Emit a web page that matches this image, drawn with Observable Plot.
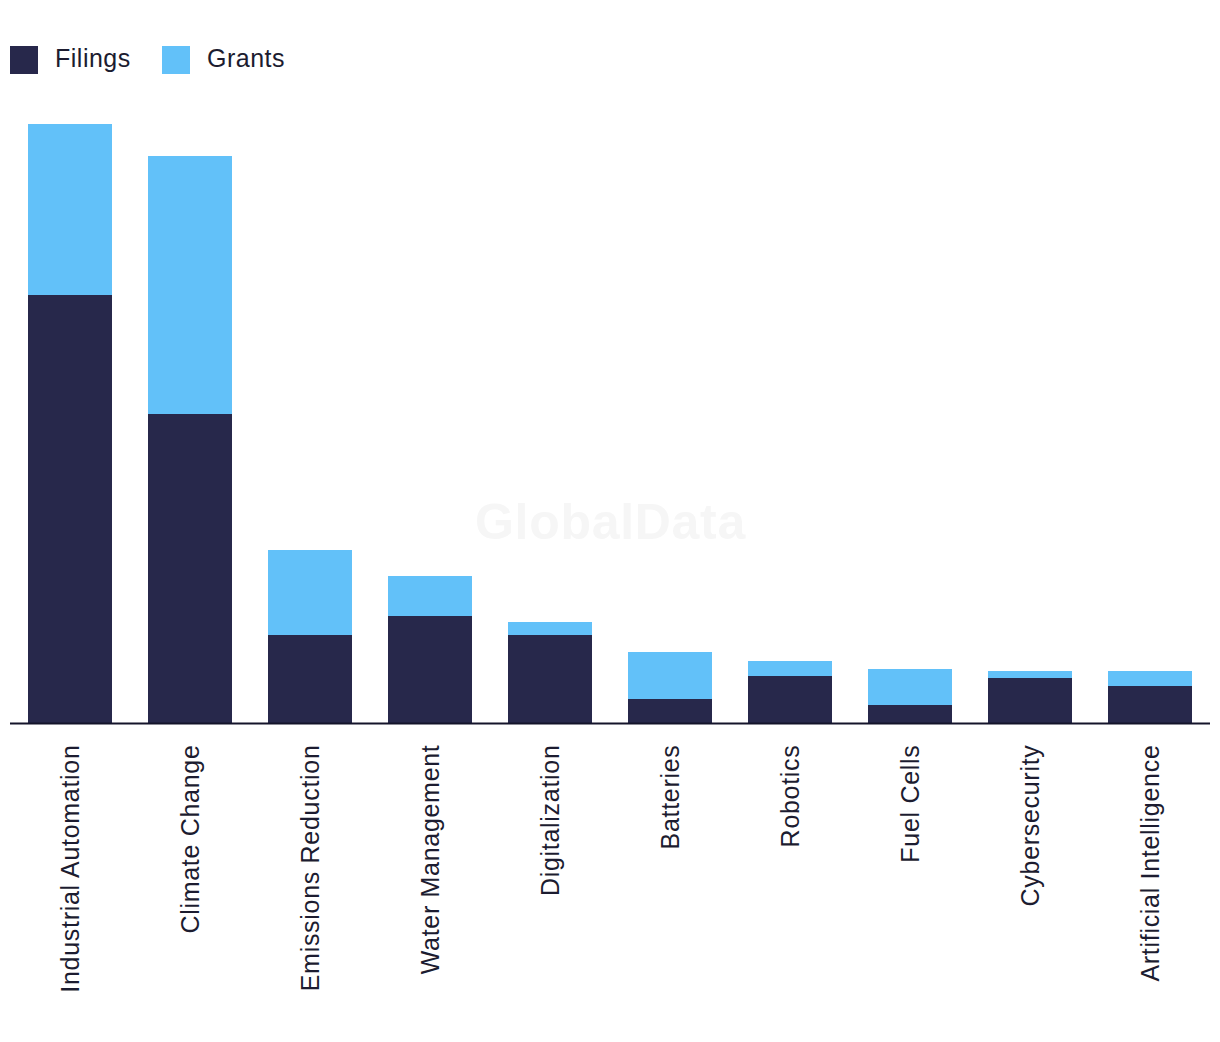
<!DOCTYPE html>
<html>
<head>
<meta charset="utf-8">
<script src="https://cdn.jsdelivr.net/npm/d3@7"></script>
<script src="https://cdn.jsdelivr.net/npm/@observablehq/plot@0.6"></script>
<style>
  html, body { margin: 0; padding: 0; background: #fff; }
  body { width: 1220px; height: 1042px; overflow: hidden; font-family: "Liberation Sans", Arial, sans-serif; }
  #legend { height: 100px; position: relative; }
  .sw { position: absolute; top: 46px; width: 28px; height: 28px; }
  .lt { position: absolute; top: 42px; font-size: 25px; color: #1c1c30; line-height: 32px; letter-spacing: 0.5px; }
  #chart svg { letter-spacing: 0.7px; }
</style>
</head>
<body>
<div id="legend"></div>
<div id="chart"></div>
<script>
const categories = ["Industrial Automation", "Climate Change", "Emissions Reduction", "Water Management", "Digitalization", "Batteries", "Robotics", "Fuel Cells", "Cybersecurity", "Artificial Intelligence"];
const filings = [428, 309, 88, 107, 88, 24, 47, 18, 45, 37];
const grants = [171, 258, 85, 40, 13, 47, 15, 36, 7, 15];
const seriesNames = ["Filings", "Grants"];
const seriesColors = ["#27284b", "#62c1f9"];

const data = [];
categories.forEach((c, i) => {
  data.push({category: c, series: "Filings", value: filings[i]});
  data.push({category: c, series: "Grants", value: grants[i]});
});

// legend
const legend = document.getElementById("legend");
const legPos = [[10, 55], [162, 207]];
seriesNames.forEach((s, i) => {
  const sw = document.createElement("div");
  sw.className = "sw";
  sw.style.left = legPos[i][0] + "px";
  sw.style.background = seriesColors[i];
  legend.appendChild(sw);
  const t = document.createElement("div");
  t.className = "lt";
  t.style.left = legPos[i][1] + "px";
  t.textContent = s;
  legend.appendChild(t);
});

const chart = Plot.plot({
  width: 1220,
  height: 942,
  marginLeft: 10,
  marginRight: 10,
  marginTop: 23,
  marginBottom: 319,
  style: {fontFamily: "Liberation Sans, Arial, sans-serif", background: "#fff"},
  x: {domain: categories, paddingInner: 0.3, paddingOuter: 0.15, label: null},
  y: {domain: [0, 600], axis: null},
  color: {domain: seriesNames, range: seriesColors},
  marks: [
    Plot.text(["GlobalData"], {frameAnchor: "middle", dy: 99, fontSize: 50, fontWeight: "bold", fill: "#f6f6f6"}),
    Plot.barY(data, Plot.stackY({x: "category", y: "value", fill: "series", order: seriesNames})),
    Plot.ruleY([0], {stroke: "#14142a", strokeWidth: 2}),
    Plot.axisX({tickRotate: -90, tickSize: 0, tickPadding: 21, fontSize: 25, fill: "#1c1c30", label: null})
  ]
});
document.getElementById("chart").appendChild(chart);
</script>
</body>
</html>
